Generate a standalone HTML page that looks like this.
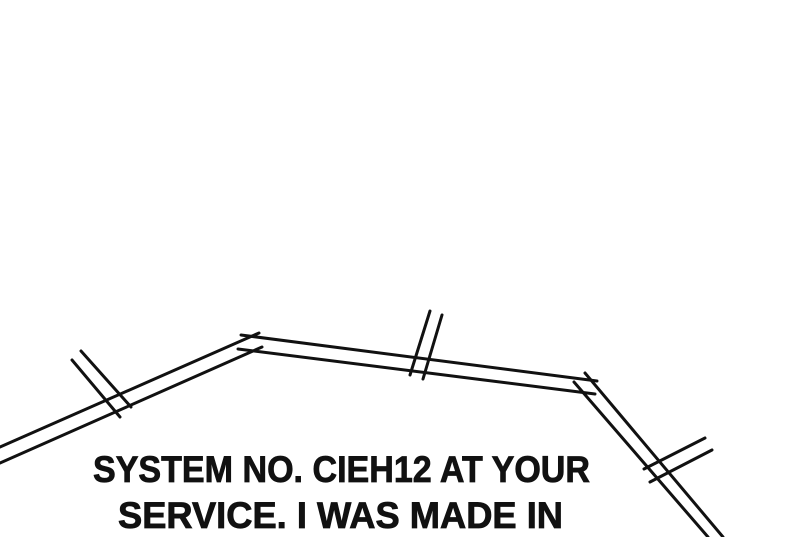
<!DOCTYPE html>
<html><head><meta charset="utf-8"><style>
html,body{margin:0;padding:0;background:#fff;width:800px;height:537px;overflow:hidden}
svg{display:block}
</style></head><body>
<svg width="800" height="537" viewBox="0 0 800 537" xmlns="http://www.w3.org/2000/svg">
<g stroke="#111" stroke-width="3" stroke-linecap="round" fill="none">
<line x1="0" y1="447" x2="259" y2="333"/>
<line x1="0" y1="463" x2="262" y2="347"/>
<line x1="241" y1="335" x2="597" y2="381"/>
<line x1="238" y1="349" x2="595" y2="394"/>
<line x1="585" y1="373" x2="723" y2="537"/>
<line x1="574" y1="382" x2="708" y2="537"/>
<line x1="72" y1="360" x2="120" y2="417"/>
<line x1="81" y1="351" x2="131" y2="407"/>
<line x1="430" y1="311" x2="410" y2="375"/>
<line x1="442" y1="315" x2="423" y2="379"/>
<line x1="705" y1="438" x2="644" y2="469"/>
<line x1="712" y1="450" x2="650" y2="482"/>
</g>
<g font-family="Liberation Sans, sans-serif" font-weight="bold" font-size="37" fill="#111" stroke="#111" stroke-width="0.8">
<text x="93" y="482" textLength="497" lengthAdjust="spacingAndGlyphs">SYSTEM NO. CIEH12 AT YOUR</text>
<text x="118" y="528" textLength="445" lengthAdjust="spacingAndGlyphs">SERVICE. I WAS MADE IN</text>
</g>
</svg>
</body></html>
